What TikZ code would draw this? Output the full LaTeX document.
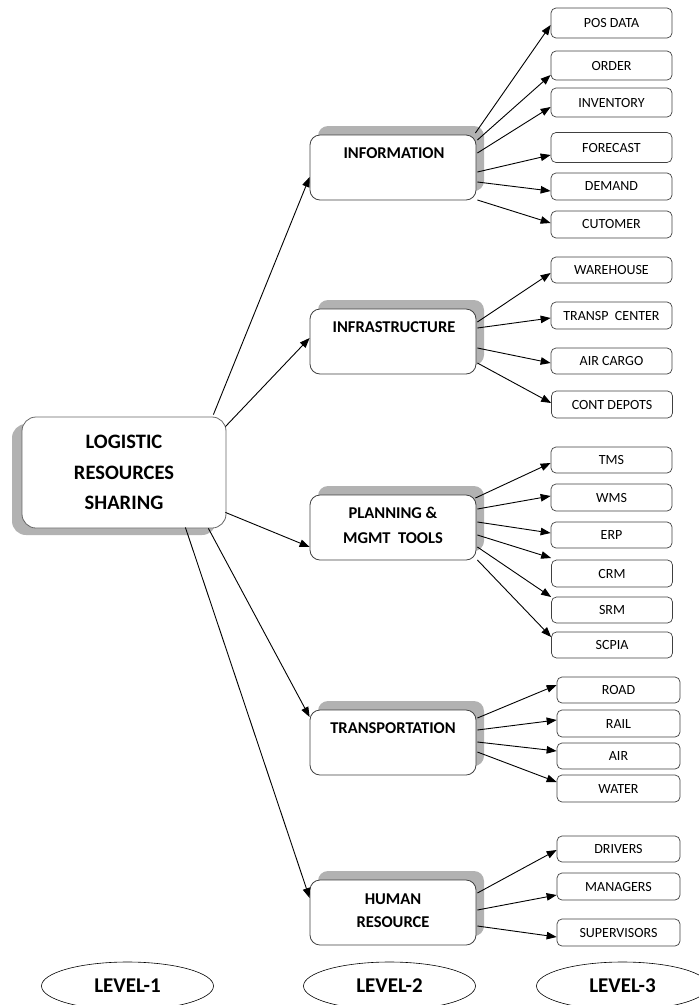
\documentclass[tikz,border=0pt]{standalone}
\usepackage{fontspec}
\setmainfont{Carlito}
\usetikzlibrary{arrows.meta,calc,shapes.geometric,shadows}
\begin{document}
\begin{tikzpicture}[x=1pt,y=-1pt,
  arr/.style={draw=black, line width=0.9pt, -{Triangle[length=10pt,width=7.5pt]}},
  lonebox/.style={draw=black!60, line width=0.8pt, rounded corners=14pt, fill=white,
    minimum width=204pt, minimum height=111pt, inner sep=0pt, align=center,
    font=\fontsize{20.5}{30.5}\selectfont\bfseries,
    general shadow={fill=black!30, shadow xshift=-10pt, shadow yshift=-7pt}},
  ltwobox/.style={draw=black!75, line width=0.8pt, rounded corners=10pt, fill=white,
    minimum width=166pt, minimum height=65pt, inner sep=0pt,
    general shadow={fill=black!30, shadow xshift=8pt, shadow yshift=9pt}},
  ltwotext/.style={anchor=base, inner sep=0pt, font=\fontsize{16.5}{20}\selectfont\bfseries},
  lthreebox/.style={draw=black!75, line width=0.7pt, rounded corners=5pt, fill=white,
    minimum width=121pt, minimum height=27pt, inner sep=0pt,
    font=\fontsize{14}{16}\selectfont},
  lthreewide/.style={lthreebox, minimum width=123pt},
  levelell/.style={draw=black, line width=0.6pt, ellipse, minimum width=172pt, minimum height=48pt,
    inner sep=0pt, font=\fontsize{21}{24}\selectfont\bfseries}
]
\clip (0,0) rectangle (699,1005);

% Level 1
\node[lonebox] (lrs) at (124,472.5) {LOGISTIC\\RESOURCES\\SHARING};

% Level 2
\node[ltwobox] (info)  at (393,167.5) {};
\node[ltwobox] (infra) at (393,341.5) {};
\node[ltwobox] (plan)  at (393,527.5) {};
\node[ltwobox] (trans) at (393,742.5) {};
\node[ltwobox] (human) at (393,912.5) {};
\node[ltwotext] (tinfo)  at ($(info.north)+(1,24)$) {INFORMATION};
\node[ltwotext] (tinfra) at ($(infra.north)+(1,24)$) {INFRASTRUCTURE};
\node[ltwotext] (tplana) at ($(plan.north)+(0,24)$) {PLANNING \&};
\node[ltwotext] (tplanb) at ($(plan.north)+(0,49)$) {MGMT\ \ TOOLS};
\node[ltwotext] (ttrans) at ($(trans.north)+(0,24)$) {TRANSPORTATION};
\node[ltwotext] (thuma) at ($(human.north)+(0,25)$) {HUMAN};
\node[ltwotext] (thumb) at ($(human.north)+(0,48)$) {RESOURCE};

% Level 3 - information
\node[lthreebox, minimum height=30pt] (pos) at (611.5,23) {POS DATA};
\node[lthreebox, minimum height=29pt] (order) at (611.5,65.5) {ORDER};
\node[lthreebox, minimum height=29pt] (inv) at (611.5,102.5) {INVENTORY};
\node[lthreebox, minimum height=30pt] (fore) at (611.5,147.5) {FORECAST};
\node[lthreebox] (dem) at (611.5,186.5) {DEMAND};
\node[lthreebox] (cust) at (611.5,224.5) {CUTOMER};
% infrastructure
\node[lthreebox, minimum height=26pt] (ware) at (611.5,270) {WAREHOUSE};
\node[lthreebox] (tcent) at (611.5,315.5) {TRANSP\ \ CENTER};
\node[lthreebox, minimum height=26pt] (acargo) at (611.5,361) {AIR CARGO};
\node[lthreebox] (cont) at (612,404.5) {CONT DEPOTS};
% planning
\node[lthreebox, minimum height=26pt] (tms) at (611.5,460) {TMS};
\node[lthreebox] (wms) at (611.5,497.5) {WMS};
\node[lthreebox, minimum height=26pt] (erp) at (611.5,535) {ERP};
\node[lthreebox] (crm) at (612,573.5) {CRM};
\node[lthreebox, minimum height=26pt] (srm) at (612,610) {SRM};
\node[lthreebox, minimum height=26pt] (scpia) at (612,645) {SCPIA};
% transportation
\node[lthreewide, minimum height=26pt] (road) at (618.5,690) {ROAD};
\node[lthreewide] (rail) at (618.5,723.5) {RAIL};
\node[lthreewide, minimum height=26pt] (air) at (618.5,756) {AIR};
\node[lthreewide] (water) at (618.5,788.5) {WATER};
% human
\node[lthreewide, minimum height=26pt] (drv) at (618.5,849) {DRIVERS};
\node[lthreewide] (mgr) at (618.5,886.5) {MANAGERS};
\node[lthreewide] (sup) at (618.5,932.5) {SUPERVISORS};

% Level 1 -> Level 2
\draw[arr] ($(lrs.north east)+(-13,-2)$) -- ($(info.west)+(0,9.5)$);
\draw[arr] ($(lrs.north east)+(-1,10)$) -- ($(infra.west)+(0,-3.5)$);
\draw[arr] ($(lrs.south east)+(-1,-16)$) -- ($(plan.west)+(0,19.5)$);
\draw[arr] ($(lrs.south east)+(-18,0)$) -- ($(trans.west)+(0,-25.5)$);
\draw[arr] ($(lrs.south east)+(-41,-1)$) -- ($(human.west)+(0,-14.5)$);

% Information
\draw[arr] ($(info.east)+(-1,-34.5)$) -- ($(pos.west)+(0,2)$);
\draw[arr] ($(info.east)+(1,-27.5)$) -- ($(order.west)+(0,9.5)$);
\draw[arr] ($(info.east)+(1,-14.5)$) -- ($(inv.west)+(0,4.5)$);
\draw[arr] ($(info.east)+(1,4.5)$) -- ($(fore.west)+(0,7.5)$);
\draw[arr] ($(info.east)+(1,14.5)$) -- ($(dem.west)+(0,4.5)$);
\draw[arr] ($(info.east)+(1,32.5)$) -- ($(cust.west)+(0,-1.5)$);
% Infrastructure
\draw[arr] ($(infra.east)+(1,-19.5)$) -- ($(ware.west)+(0,3)$);
\draw[arr] ($(infra.east)+(1,-13.5)$) -- ($(tcent.west)+(0,2.5)$);
\draw[arr] ($(infra.east)+(1,6.5)$) -- ($(acargo.west)+(0,2)$);
\draw[arr] ($(infra.east)+(1,21.5)$) -- ($(cont.west)+(0,-1.5)$);
% Planning
\draw[arr] ($(plan.east)+(-1,-29.5)$) -- ($(tms.west)+(0,3)$);
\draw[arr] ($(plan.east)+(1,-18.5)$) -- ($(wms.west)+(0,-1.5)$);
\draw[arr] ($(plan.east)+(1,-5.5)$) -- ($(erp.west)+(0,-2)$);
\draw[arr] ($(plan.east)+(1,7.5)$) -- ($(crm.west)+(0,-15.5)$);
\draw[arr] ($(plan.east)+(1,19.5)$) -- ($(srm.west)+(0,-13)$);
\draw[arr] ($(plan.east)+(1,32.5)$) -- ($(scpia.west)+(0,-8)$);
% Transportation
\draw[arr] ($(trans.east)+(1,-24.5)$) -- ($(road.west)+(0,-5)$);
\draw[arr] ($(trans.east)+(1,-12.5)$) -- ($(rail.west)+(0,-3.5)$);
\draw[arr] ($(trans.east)+(1,-0.5)$) -- ($(air.west)+(0,-5)$);
\draw[arr] ($(trans.east)+(1,9.5)$) -- ($(water.west)+(0,-6.5)$);
% Human
\draw[arr] ($(human.east)+(1,-19.5)$) -- ($(drv.west)+(0,1)$);
\draw[arr] ($(human.east)+(1,-2.5)$) -- ($(mgr.west)+(0,8.5)$);
\draw[arr] ($(human.east)+(1,13.5)$) -- ($(sup.west)+(0,4.5)$);

% Levels
\node[levelell] (lv1) at (127.5,986) {LEVEL-1};
\node[levelell] (lv2) at (389.5,986) {LEVEL-2};
\node[levelell] (lv3) at (622.5,986) {LEVEL-3};
\end{tikzpicture}
\end{document}
